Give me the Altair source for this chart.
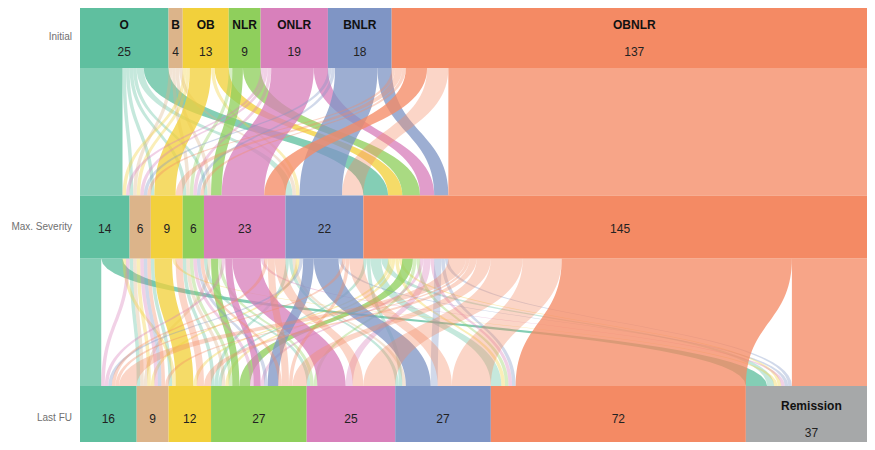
import altair as alt
import numpy as np
import pandas as pd

# ---------------- data ----------------
CATEGORIES = ["O", "B", "OB", "NLR", "ONLR", "BNLR", "OBNLR", "Remission"]
ROW_LABELS = ["Initial", "Max. Severity", "Last FU"]

# patient paths: (max severity, last FU, number of patients), grouped by initial category
PATHS_FROM_O = [("O", "O", 6), ("O", "Remission", 6), ("B", "B", 1), ("OB", "OB", 1),
                ("NLR", "NLR", 1), ("ONLR", "ONLR", 1), ("BNLR", "NLR", 1), ("BNLR", "BNLR", 1),
                ("OBNLR", "NLR", 1), ("OBNLR", "BNLR", 1), ("OBNLR", "OBNLR", 3),
                ("OBNLR", "Remission", 2)]
PATHS_FROM_B = [("B", "B", 1), ("NLR", "NLR", 1), ("ONLR", "B", 1), ("BNLR", "BNLR", 1)]
PATHS_FROM_OB = [("O", "OB", 1), ("B", "B", 1), ("OB", "OB", 5), ("OB", "Remission", 1),
                 ("BNLR", "B", 1), ("OBNLR", "OB", 1), ("OBNLR", "NLR", 1),
                 ("OBNLR", "OBNLR", 1), ("OBNLR", "Remission", 1)]
PATHS_FROM_NLR = [("NLR", "NLR", 1), ("ONLR", "NLR", 2), ("ONLR", "ONLR", 1),
                  ("OBNLR", "NLR", 3), ("OBNLR", "OBNLR", 1), ("OBNLR", "ONLR", 1)]
PATHS_FROM_ONLR = [("O", "O", 1), ("B", "B", 1), ("NLR", "NLR", 1), ("ONLR", "O", 1),
                   ("ONLR", "NLR", 2), ("ONLR", "ONLR", 8), ("ONLR", "Remission", 1),
                   ("OBNLR", "NLR", 1), ("OBNLR", "ONLR", 2), ("OBNLR", "OBNLR", 1)]
PATHS_FROM_BNLR = [("B", "B", 1), ("NLR", "NLR", 1), ("BNLR", "O", 1), ("BNLR", "NLR", 3),
                   ("BNLR", "BNLR", 7), ("BNLR", "Remission", 1), ("OBNLR", "BNLR", 2),
                   ("OBNLR", "OBNLR", 1), ("OBNLR", "Remission", 1)]
PATHS_FROM_OBNLR = [("B", "B", 1), ("OB", "OB", 2), ("NLR", "NLR", 1), ("ONLR", "O", 1),
                    ("ONLR", "NLR", 2), ("ONLR", "ONLR", 3), ("BNLR", "O", 1), ("BNLR", "NLR", 1),
                    ("BNLR", "BNLR", 4), ("OBNLR", "O", 5), ("OBNLR", "B", 1), ("OBNLR", "OB", 2),
                    ("OBNLR", "NLR", 4), ("OBNLR", "ONLR", 9), ("OBNLR", "BNLR", 11),
                    ("OBNLR", "OBNLR", 65), ("OBNLR", "Remission", 24)]

PATHS = {"O": PATHS_FROM_O, "B": PATHS_FROM_B, "OB": PATHS_FROM_OB, "NLR": PATHS_FROM_NLR,
         "ONLR": PATHS_FROM_ONLR, "BNLR": PATHS_FROM_BNLR, "OBNLR": PATHS_FROM_OBNLR}

# ---------------- style ----------------
COLORS = ["#5fbf9f", "#dcb48a", "#f2d03b", "#8fcf5c", "#d880bb", "#7f95c5", "#f48a64", "#a6a8a9"]
STRONG_1 = {("O", "O"), ("O", "OBNLR"), ("OB", "OB"), ("OB", "OBNLR"), ("NLR", "ONLR"),
            ("NLR", "OBNLR"), ("ONLR", "ONLR"), ("ONLR", "OBNLR"), ("BNLR", "BNLR"),
            ("BNLR", "OBNLR"), ("OBNLR", "ONLR"), ("OBNLR", "OBNLR")}
STRONG_2 = {("O", "O", "O"), ("O", "O", "Remission"), ("OB", "OB", "OB"), ("NLR", "ONLR", "NLR"),
            ("NLR", "OBNLR", "NLR"), ("ONLR", "ONLR", "NLR"), ("ONLR", "ONLR", "ONLR"),
            ("BNLR", "BNLR", "NLR"), ("BNLR", "BNLR", "BNLR"), ("OBNLR", "OBNLR", "OBNLR"),
            ("OBNLR", "OBNLR", "Remission")}
ALPHA_STRONG, ALPHA_LIGHT = 0.77, 0.36
FONT = "Liberation Sans"

LEFT_PAD = 72
PLOT_W, PLOT_H = 787, 437          # svg = 859 x 434 (fits the page without shrinking)
X_MAX = 225 * 795 / 805            # visible part of the patient axis
BAR_H, GAP = 63, 127.5
ROW_TOP = [i * (BAR_H + GAP) for i in range(3)]
Y_MIN = 0
Y_MAX = Y_MIN + PLOT_H

# ---------------- build tables ----------------
idx = {c: i for i, c in enumerate(CATEGORIES)}
paths = pd.DataFrame([(a, b, c, n) for a, lst in PATHS.items() for (b, c, n) in lst],
                     columns=["a", "b", "c", "n"])

counts = [paths.groupby(k)["n"].sum() for k in ["a", "b", "c"]]
starts = []
bar_rows = []
for r, cnt in enumerate(counts):
    cats = [c for c in CATEGORIES if c in cnt.index]
    pos, st = 0.0, {}
    for c in cats:
        st[c] = pos
        first = all(c not in counts[k].index for k in range(r))
        top = ROW_TOP[r]
        bar_rows.append(dict(cat=c, x0=pos, x1=pos + cnt[c], xc=pos + cnt[c] / 2,
                             y0=top, y1=top + BAR_H, count=str(int(cnt[c])),
                             name=c if first else "",
                             ycount=top + (47 if first else 33), yname=top + 20))
        pos += cnt[c]
    starts.append(st)
bars = pd.DataFrame(bar_rows)

ribbons = []
# band 1 : Initial -> Max severity
b1 = paths.groupby(["a", "b"], as_index=False)["n"].sum()
b1["ka"], b1["kb"] = b1["a"].map(idx), b1["b"].map(idx)
off = dict(starts[0]); top = {}
for _, r in b1.sort_values(["ka", "kb"]).iterrows():
    top[(r.a, r.b)] = off[r.a]; off[r.a] += r.n
off = dict(starts[1]); bot = {}
for _, r in b1.sort_values(["kb", "ka"]).iterrows():
    bot[(r.a, r.b)] = off[r.b]; off[r.b] += r.n
for _, r in b1.sort_values(["ka", "kb"]).iterrows():
    k = (r.a, r.b)
    ribbons.append((r.a, top[k], bot[k], r.n, ROW_TOP[0] + BAR_H, ROW_TOP[1],
                    ALPHA_STRONG if k in STRONG_1 else ALPHA_LIGHT))

# band 2 : Max severity -> Last FU
b2 = paths.copy()
b2["ka"], b2["kb"], b2["kc"] = b2["a"].map(idx), b2["b"].map(idx), b2["c"].map(idx)
off = dict(starts[1]); top = {}
for _, r in b2.sort_values(["kb", "ka", "kc"]).iterrows():
    top[(r.a, r.b, r.c)] = off[r.b]; off[r.b] += r.n
off = dict(starts[2]); bot = {}
for _, r in b2.sort_values(["kc", "ka", "kb"]).iterrows():
    bot[(r.a, r.b, r.c)] = off[r.c]; off[r.c] += r.n
for _, r in b2.sort_values(["ka", "kb", "kc"]).iterrows():
    k = (r.a, r.b, r.c)
    ribbons.append((r.a, top[k], bot[k], r.n, ROW_TOP[1] + BAR_H, ROW_TOP[2],
                    ALPHA_STRONG if k in STRONG_2 else ALPHA_LIGHT))

t = np.linspace(0, 1, 36)
ty = 1.5 * t - 1.5 * t ** 2 + t ** 3
tx = 3 * t ** 2 - 2 * t ** 3
rib_rows = []
for i, (a, x_top, x_bot, n, y_top, y_bot, alpha) in enumerate(ribbons):
    for yy, fx in zip(ty, tx):
        xl = x_top + (x_bot - x_top) * fx
        rib_rows.append(dict(rid=f"r{i:04d}", init=a, y=y_top + (y_bot - y_top) * yy,
                             xl=xl, xr=xl + n, alpha=alpha))
rib = pd.DataFrame(rib_rows)

row_df = pd.DataFrame({"label": ROW_LABELS, "y": [tp + BAR_H / 2 for tp in ROW_TOP]})

# ---------------- chart ----------------
xs = alt.Scale(domain=[0, X_MAX], nice=False, zero=False)
ys = alt.Scale(domain=[Y_MIN, Y_MAX], reverse=True, nice=False, zero=False)
cs = alt.Scale(domain=CATEGORIES, range=COLORS)

ribbon_layer = alt.Chart(rib).mark_area(clip=True, orient="horizontal").encode(
    y=alt.Y("y:Q", scale=ys, axis=None),
    x=alt.X("xl:Q", scale=xs, axis=None, stack=None),
    x2="xr:Q",
    detail="rid:N",
    color=alt.Color("init:N", scale=cs, legend=None),
    opacity=alt.Opacity("alpha:Q", scale=None),
)

bar_layer = alt.Chart(bars).mark_rect(clip=True).encode(
    x=alt.X("x0:Q", scale=xs, axis=None), x2="x1:Q",
    y=alt.Y("y0:Q", scale=ys, axis=None), y2="y1:Q",
    color=alt.Color("cat:N", scale=cs, legend=None),
)

count_layer = alt.Chart(bars).mark_text(font=FONT, fontSize=12, color="#222222",
                                        baseline="middle", align="center").encode(
    x=alt.X("xc:Q", scale=xs, axis=None), y=alt.Y("ycount:Q", scale=ys, axis=None),
    text="count:N",
)

name_layer = alt.Chart(bars).mark_text(font=FONT, fontSize=12, fontWeight="bold",
                                       color="#111111", baseline="middle",
                                       align="center").encode(
    x=alt.X("xc:Q", scale=xs, axis=None), y=alt.Y("yname:Q", scale=ys, axis=None),
    text="name:N",
)

row_layer = alt.Chart(row_df).mark_text(font=FONT, fontSize=10, color="#707070",
                                        baseline="middle", align="right").encode(
    x=alt.value(-8), y=alt.Y("y:Q", scale=ys, axis=None), text="label:N",
)

chart = alt.layer(ribbon_layer, bar_layer, count_layer, name_layer, row_layer).properties(
    width=PLOT_W, height=PLOT_H,
    autosize=alt.AutoSizeParams(type="none"),
    padding={"left": LEFT_PAD, "top": -3, "right": 0, "bottom": 0},
    background="white",
).configure_view(stroke=None)

chart.save("out.html", embed_options={"renderer": "svg", "actions": False})
